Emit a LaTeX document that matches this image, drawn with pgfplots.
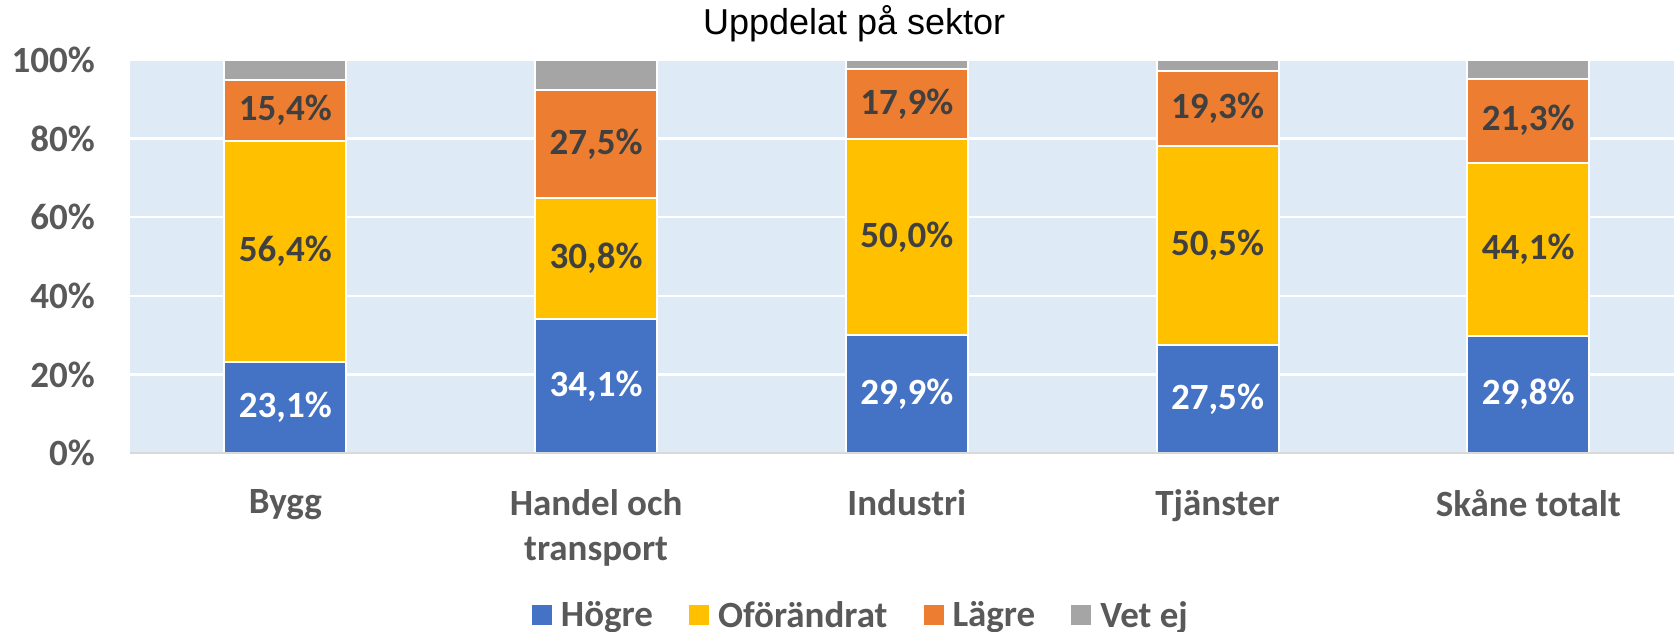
\documentclass[border=0pt]{standalone}
\usepackage{fontspec}
\setmainfont{Carlito}
\newfontfamily\arialfont{Liberation Sans}
\usepackage{pgfplots}
\usepackage{pgfplotstable}
\pgfplotsset{compat=1.18}
\definecolor{cblue}{HTML}{4472C4}
\definecolor{cyellow}{HTML}{FFC000}
\definecolor{corange}{HTML}{ED7D31}
\definecolor{cgray}{HTML}{A5A5A5}
\definecolor{bgblue}{HTML}{DEEBF7}
\definecolor{ticktext}{HTML}{595959}
\definecolor{labtext}{HTML}{404040}
\definecolor{axisgray}{HTML}{D9D9D9}

\pgfplotstableread{
x H O L V
0 23.1 56.4 15.4 5.1
1 34.1 30.8 27.5 7.6
2 29.9 50.0 17.9 2.2
3 27.5 50.5 19.3 2.7
4 29.8 44.1 21.3 4.8
}\bars

\pgfplotstableread{
x Hm Hv Om Ov Lm Lv
0 11.55 23.1 51.30 56.4 87.20 15.4
1 17.05 34.1 49.50 30.8 78.65 27.5
2 14.95 29.9 54.90 50.0 88.85 17.9
3 13.75 27.5 52.75 50.5 87.65 19.3
4 14.90 29.8 51.85 44.1 84.55 21.3
}\labels

\newcommand{\bigfont}{\bfseries\fontsize{37}{45}\selectfont}
\newcommand{\legfont}{\bfseries\fontsize{37}{45}\selectfont}

\begin{document}
\begin{tikzpicture}
\begin{axis}[
  name=main, at={(0,0)}, anchor=south west,
  scale only axis, width=1544pt, height=393pt,
  xmin=-0.5, xmax=4.469, ymin=0, ymax=100,
  ybar stacked, bar width=122pt,
  axis background/.style={fill=bgblue},
  axis line style={draw=none},
  major tick length=0pt,
  ymajorgrids, grid style={white, line width=2.5pt},
  ytick={0,20,40,60,80,100},
  yticklabel={\pgfmathprintnumber[assume math mode=true]{\tick}\%},
  yticklabel style={font=\bigfont, text=ticktext, inner sep=0pt, anchor=east, xshift=-35pt},
  xtick={0,1,2,3,4},
  xticklabels={Bygg,{Handel och\\transport},Industri,Tjänster,{Skåne totalt}},
  xticklabel style={font=\bigfont, text=ticktext, align=center, anchor=north, inner sep=0pt, yshift=-36pt},
  title={Uppdelat på sektor},
  title style={font=\arialfont\fontsize{36}{40}\selectfont, at={(0.469,1.076)}, anchor=center, inner sep=0pt},
  legend columns=4,
  legend style={at={(0.4734,-0.412)}, anchor=center, draw=none, fill=none,
    font=\legfont, text=ticktext,
    nodes={inner xsep=2pt},
    /tikz/every odd column/.append style={column sep=7pt},
    /tikz/every even column/.append style={column sep=34pt}},
  legend cell align=left,
  legend image code/.code={\fill[#1,draw=none] (0pt,-10pt) rectangle (20pt,10pt);},
  after end axis/.code={\draw[line width=2pt, color=axisgray] (rel axis cs:0,0) -- (rel axis cs:1,0);},
]
\addplot[fill=cblue, draw=white, line width=2pt] table[x=x, y=H] {\bars};
\addlegendentry{Högre}
\addplot[fill=cyellow, draw=white, line width=2pt] table[x=x, y=O] {\bars};
\addlegendentry{Oförändrat}
\addplot[fill=corange, draw=white, line width=2pt] table[x=x, y=L] {\bars};
\addlegendentry{Lägre}
\addplot[fill=cgray, draw=white, line width=2pt] table[x=x, y=V] {\bars};
\addlegendentry{Vet ej}
\end{axis}
\begin{axis}[
  at={(0,0)}, anchor=south west,
  scale only axis, width=1544pt, height=393pt,
  xmin=-0.5, xmax=4.469, ymin=0, ymax=100,
  hide axis, clip=false,
  point meta=explicit,
  nodes near coords={\pgfmathprintnumber[fixed,fixed zerofill,precision=1,use comma,assume math mode=true]{\pgfplotspointmeta}\%},
]
\addplot[only marks, mark=*, mark size=0pt, mark options={draw=none,fill=none},
  every node near coord/.style={anchor=center, font=\bigfont, text=white}]
  table[x=x, y=Hm, meta=Hv] {\labels};
\addplot[only marks, mark=*, mark size=0pt, mark options={draw=none,fill=none},
  every node near coord/.style={anchor=center, font=\bigfont, text=labtext}]
  table[x=x, y=Om, meta=Ov] {\labels};
\addplot[only marks, mark=*, mark size=0pt, mark options={draw=none,fill=none},
  every node near coord/.style={anchor=center, font=\bigfont, text=labtext}]
  table[x=x, y=Lm, meta=Lv] {\labels};
\end{axis}
\pgfresetboundingbox
\path (main.south west) ++(-130pt,-179pt) rectangle ++(1674pt,632pt);
\end{tikzpicture}
\end{document}
